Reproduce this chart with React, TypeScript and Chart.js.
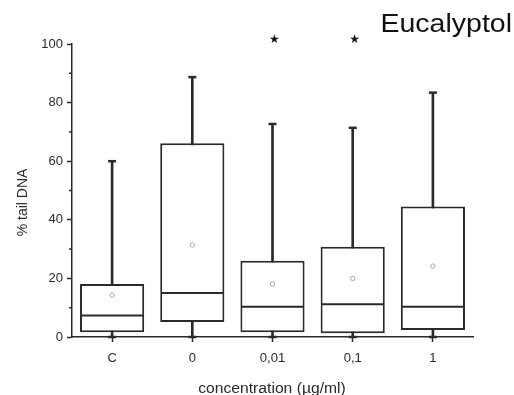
import React, { useEffect, useRef } from "react";
import { Chart, registerables } from "chart.js";

Chart.register(...registerables);

// ---- data ----
const categories = ["C", "0", "0,01", "0,1", "1"];
const whiskerMin = [0, 0, 0, 0, 0];
const q1 = [1.6, 5.1, 1.6, 1.3, 2.4];
const medians = [7.3, 15.0, 10.3, 11.2, 10.3];
const q3 = [18.1, 66.1, 26.0, 30.8, 44.5];
const whiskerMax = [60.0, 88.7, 72.7, 71.4, 83.4];
const means = [14.3, 31.4, 18.1, 20.0, 24.2];
const significant = [false, false, true, true, false];
const starLevel = 101.5;
const yMinorTicks = [10, 30, 50, 70, 90];

const titleText = "Eucalyptol";
const yTitle = "% tail DNA";
const xTitle = "concentration (µg/ml)";

const INK = "#2a2a2a";
const FONT = "'Liberation Sans', Arial, sans-serif";

const extrasPlugin = {
  id: "boxExtras",
  afterDatasetsDraw(chart: any) {
    const { ctx, scales } = chart;
    const x = scales.x;
    const y = scales.y;
    const boxMeta = chart.getDatasetMeta(1);
    ctx.save();
    ctx.strokeStyle = INK;
    ctx.lineCap = "butt";
    categories.forEach((_, i) => {
      const bar = boxMeta.data[i];
      const cx = x.getPixelForValue(i);
      const half = bar.width / 2;
      // median
      ctx.lineWidth = 2;
      const my = y.getPixelForValue(medians[i]);
      ctx.beginPath();
      ctx.moveTo(cx - half + 1, my);
      ctx.lineTo(cx + half - 1, my);
      ctx.stroke();
      // whisker caps
      ctx.lineWidth = 2.5;
      [whiskerMax[i], whiskerMin[i]].forEach((v) => {
        const py = y.getPixelForValue(v);
        ctx.beginPath();
        ctx.moveTo(cx - 4, py);
        ctx.lineTo(cx + 4, py);
        ctx.stroke();
      });
    });
    ctx.restore();
  },
  afterDraw(chart: any) {
    const { ctx, chartArea, scales } = chart;
    const x = scales.x;
    const y = scales.y;
    ctx.save();
    // minor y ticks
    ctx.strokeStyle = INK;
    ctx.lineWidth = 1.5;
    yMinorTicks.forEach((v) => {
      const py = y.getPixelForValue(v);
      ctx.beginPath();
      ctx.moveTo(chartArea.left - 3, py);
      ctx.lineTo(chartArea.left, py);
      ctx.stroke();
    });
    // significance stars
    ctx.fillStyle = "#111";
    ctx.font = "12px 'DejaVu Sans', sans-serif";
    ctx.textAlign = "center";
    ctx.textBaseline = "middle";
    significant.forEach((s, i) => {
      if (!s) return;
      ctx.fillText("★", x.getPixelForValue(i) + 2, y.getPixelForValue(starLevel));
    });
    // chart title (top right)
    ctx.fillStyle = "#111";
    ctx.font = `25px ${FONT}`;
    ctx.textAlign = "right";
    ctx.textBaseline = "alphabetic";
    ctx.save();
    ctx.translate(chart.width - 2, 32);
    ctx.scale(1.14, 1);
    ctx.fillText(titleText, 0, 0);
    ctx.restore();
    // x title
    ctx.fillStyle = INK;
    ctx.font = `14px ${FONT}`;
    ctx.textAlign = "center";
    ctx.save();
    ctx.translate((chartArea.left + chartArea.right) / 2 - 0.5, chart.height - 2);
    ctx.scale(1.12, 1);
    ctx.fillText(xTitle, 0, 0);
    ctx.restore();
    // y title
    ctx.save();
    ctx.translate(chartArea.left - 49, (chartArea.top + chartArea.bottom) / 2 + 12);
    ctx.rotate(-Math.PI / 2);
    ctx.font = `14px ${FONT}`;
    ctx.textAlign = "center";
    ctx.textBaseline = "middle";
    ctx.fillText(yTitle, 0, 0);
    ctx.restore();
    ctx.restore();
  },
};

export default function App() {
  const ref = useRef<HTMLCanvasElement | null>(null);

  useEffect(() => {
    if (!ref.current) return;
    const chart = new Chart(ref.current, {
      type: "bar",
      data: {
        labels: categories,
        datasets: [
          {
            type: "bar",
            label: "whiskers",
            data: categories.map((_, i) => [whiskerMin[i], whiskerMax[i]]),
            backgroundColor: INK,
            borderWidth: 0,
            barThickness: 2,
            grouped: false,
            order: 3,
          } as any,
          {
            type: "bar",
            label: "box",
            data: categories.map((_, i) => [q1[i], q3[i]]),
            backgroundColor: "#ffffff",
            borderColor: INK,
            borderWidth: 2,
            borderSkipped: false,
            barPercentage: 0.8,
            categoryPercentage: 1,
            grouped: false,
            order: 2,
          } as any,
          {
            type: "line",
            label: "mean",
            data: means,
            showLine: false,
            pointStyle: "circle",
            pointRadius: 2.2,
            pointBorderWidth: 1,
            pointBorderColor: "#a8a8a8",
            pointBackgroundColor: "#ffffff",
            order: 1,
          } as any,
        ],
      },
      options: {
        animation: false,
        responsive: false,
        events: [],
        layout: { padding: { left: 0, right: 41, top: 44, bottom: 0 } },
        plugins: {
          legend: { display: false },
          tooltip: { enabled: false },
          title: { display: false },
        },
        scales: {
          x: {
            type: "category",
            offset: true,
            grid: {
              display: true,
              offset: false,
              drawOnChartArea: false,
              drawTicks: true,
              tickLength: 5,
              tickColor: INK,
              tickWidth: 1.5,
            },
            border: { display: true, color: INK, width: 1.5 },
            ticks: {
              color: INK,
              font: { family: FONT, size: 13 },
              padding: 9,
              maxRotation: 0,
            },
            afterFit: (scale: any) => {
              scale.height = 58;
            },
          },
          y: {
            type: "linear",
            min: 0,
            max: 100,
            grid: {
              display: true,
              drawOnChartArea: false,
              drawTicks: true,
              tickLength: 5,
              tickColor: INK,
              tickWidth: 1.5,
            },
            border: { display: true, color: INK, width: 1.5 },
            ticks: {
              stepSize: 20,
              color: INK,
              font: { family: FONT, size: 13 },
              padding: 4,
            },
            afterFit: (scale: any) => {
              scale.width = 72;
            },
          },
        },
      },
      plugins: [extrasPlugin],
    });
    return () => chart.destroy();
  }, []);

  return (
    <div style={{ position: "fixed", left: 0, top: 0, width: 514, height: 395, background: "#fff" }}>
      <canvas ref={ref} width={514} height={395} style={{ display: "block" }} />
    </div>
  );
}
